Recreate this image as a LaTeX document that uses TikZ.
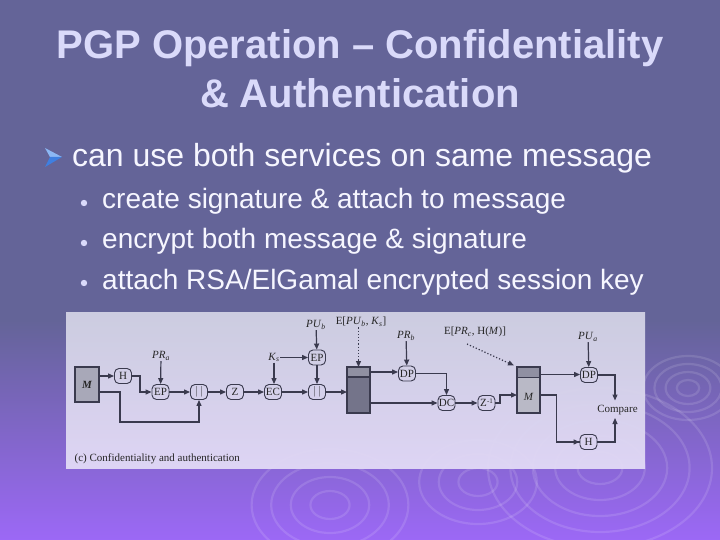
\documentclass[tikz,border=0pt]{standalone}
\usepackage{fontspec}
\setmainfont{Liberation Serif}
\newfontfamily\slidefont{Liberation Sans}
\usetikzlibrary{arrows.meta}
\definecolor{bgtop}{HTML}{646498}
\definecolor{bgbot}{HTML}{9C68F6}
\definecolor{titlec}{HTML}{DADAFA}
\definecolor{bodyc}{HTML}{F6F6FF}
\definecolor{panelt}{HTML}{D2D2E4}
\definecolor{panelb}{HTML}{E2DAF6}
\definecolor{lc}{HTML}{3A3A4E}
\definecolor{boxlight}{HTML}{A8A8B8}
\definecolor{boxdark}{HTML}{74748A}
\definecolor{boxmid}{HTML}{9090A2}
\definecolor{arrowb}{HTML}{3F7FE0}
\definecolor{arrowl}{HTML}{8CB8F4}
\newcommand\itsub[2]{\textit{#1}\textsubscript{\textit{#2}}}
\begin{document}
\begin{tikzpicture}[x=1pt,y=-1pt,
  lbl/.style={font=\fontsize{11}{12}\selectfont, inner sep=0.5pt, text=black!85},
  op/.style={draw=lc, line width=0.9pt, rounded corners=4.5pt, minimum width=17pt, minimum height=15pt, inner sep=0.5pt, font=\fontsize{11}{12}\selectfont, text=black!85},
  cn/.style={draw=lc, line width=1.2pt, -{Triangle[length=6pt,width=5pt]}},
  dcn/.style={draw=lc, line width=1.2pt, dotted, -{Triangle[length=6pt,width=5pt]}},
  ln/.style={draw=lc, line width=1.2pt},
  ripple/.style={draw=white, draw opacity=0.12, line width=2.2pt},
  ttl/.style={font=\slidefont\bfseries\fontsize{40}{44}\selectfont, anchor=base, inner sep=0, text=titlec},
  bul/.style={font=\slidefont\fontsize{32}{36}\selectfont, anchor=base west, inner sep=0, text=bodyc},
  sbul/.style={font=\slidefont\fontsize{28}{32}\selectfont, anchor=base west, inner sep=0, text=bodyc},
]
\useasboundingbox (0,0) rectangle (720,540);
% background
\fill[bgtop] (0,0) rectangle (720,322);
\shade[top color=bgtop, bottom color=bgbot] (0,320) rectangle (720,540);
% ripples
\foreach \r in {14,28,42,56} \draw[ripple] (330,505) ellipse ({\r*1.4} and \r);
\foreach \r in {14,28,42} \draw[ripple] (478,482) ellipse ({\r*1.4} and \r);
\foreach \r in {16,32,48,64,80} \draw[ripple] (600,468) ellipse ({\r*1.4} and \r);
\foreach \r in {8,16,24,32} \draw[ripple] (688,388) ellipse ({\r*1.4} and \r);
% title
\node[ttl] (t1) at (360,59) {PGP Operation – Confidentiality};
\node[ttl] (t2) at (360,108) {\& Authentication};
% bullets
\fill[arrowl] (45,148) -- (62,157) -- (50,157) -- cycle;
\fill[arrowb] (50,157) -- (62,157) -- (45,167) -- cycle;
\node[bul] (b0) at (72,167) {can use both services on same message};
\foreach \yy in {203,243,283} \fill[titlec] (84,\yy) circle (3.2);
\node[sbul] (b1) at (102,208) {create signature \& attach to message};
\node[sbul] (b2) at (102,248) {encrypt both message \& signature};
\node[sbul] (b3) at (102,289) {attach RSA/ElGamal encrypted session key};
% panel
\shade[top color=panelt, bottom color=panelb, opacity=0.95] (66,312) rectangle (645,468);
% --- diagram ---
\draw[ln, fill=boxlight] (75,367) rectangle (99,402);
\node[lbl, font=\fontsize{11}{12}\selectfont\bfseries\itshape] (m1) at (87,384.5) {M};
\coordinate (m1e1) at (99,376);
\coordinate (m1e2) at (99,392);
\node[op] (h1) at (123,376) {H};
\node[op] (ep1) at (160.5,392) {EP};
\node[lbl] (pra) at (161,356) {\itsub{PR}{a}};
\node[op] (c1) at (199,392) {$|\,|$};
\node[op] (z) at (235,392) {Z};
\node[op] (ec) at (273,392) {EC};
\node[lbl] (ks) at (274,357.5) {\itsub{K}{s}};
\node[op] (ep2) at (317,357.5) {EP};
\node[lbl] (pub) at (316,325) {\itsub{PU}{b}};
\node[op] (c2) at (317,392) {$|\,|$};
% encrypted box
\draw[ln, fill=boxdark] (347,367) rectangle (370,413);
\draw[ln, fill=boxmid] (347,367) rectangle (370,377);
\coordinate (bx1w) at (347,392);
\coordinate (bx1t) at (358.5,367);
\coordinate (bx1e1) at (370,372);
\coordinate (bx1e2) at (370,403);
\node[lbl] (epu) at (361,322) {E[\itsub{PU}{b}, \itsub{K}{s}]};
\node[op] (dp1) at (407,373.5) {DP};
\node[lbl] (prb) at (406,336) {\itsub{PR}{b}};
\node[op] (dc) at (446.5,403) {DC};
\node[op, inner sep=0pt] (zi) at (486.5,403) {Z\kern0.3pt\raisebox{3pt}{\fontsize{7}{8}\selectfont -1}};
% M box 2
\draw[ln, fill=boxlight!80!white] (517,367) rectangle (540,413);
\draw[ln, fill=boxmid] (517,367) rectangle (540,377.5);
\node[lbl, font=\fontsize{11}{12}\selectfont\itshape] (m2) at (528.5,397) {M};
\coordinate (m2w) at (517,395);
\coordinate (m2e1) at (540,374.5);
\coordinate (m2e2) at (540,395);
\node[lbl] (epr) at (475,332) {E[\itsub{PR}{c}, H(\textit{M})]};
\node[op] (dp2) at (589,375) {DP};
\node[lbl] (pua) at (588,337) {\itsub{PU}{a}};
\node[lbl] (cmp) at (617.5,410) {Compare};
\node[op] (h2) at (588.5,442) {H};
\node[lbl, anchor=west] (cap) at (74,459) {(c) Confidentiality and authentication};
% connectors
\draw[cn] (m1e1) -- (h1);
\draw[cn] (h1.east) -| (140,392) -- (ep1.west);
\draw[cn] (pra) -- (ep1);
\draw[cn] (m1e2) -- (120,392) |- (199,422) -- (c1.south);
\draw[cn] (ep1) -- (c1);
\draw[cn] (c1) -- (z);
\draw[cn] (z) -- (ec);
\draw[cn] (ks.south) -- (ks.south |- ec.north);
\draw[cn] (ks.east) -- (ep2.west);
\draw[cn] (ec) -- (c2);
\draw[cn] (pub) -- (ep2);
\draw[cn] (ep2) -- (c2);
\draw[cn] (c2) -- (bx1w);
\draw[dcn] (bx1t |- epu.south) -- (bx1t);
\draw[cn] (bx1e1) -- (bx1e1 -| dp1.west);
\draw[cn] (prb) -- (dp1);
\draw[cn] (dp1.east) -| (dc.north);
\draw[cn] (bx1e2) -- (dc.west);
\draw[cn] (dc) -- (zi);
\draw[cn] (zi.east) -- (500,403) |- (m2w);
\draw[dcn] (467,344) -- (514,365.5);
\draw[cn] (m2e1) -- (m2e1 -| dp2.west);
\draw[cn] (pua) -- (dp2);
\draw[cn] (dp2.east) -| (615,400.5);
\draw[ln] (m2e2) -- (556.5,395) |- (h2.west);
\draw[cn] (556.5,442) -- (h2.west);
\draw[cn] (h2.east) -| (615,418);
\end{tikzpicture}
\end{document}
